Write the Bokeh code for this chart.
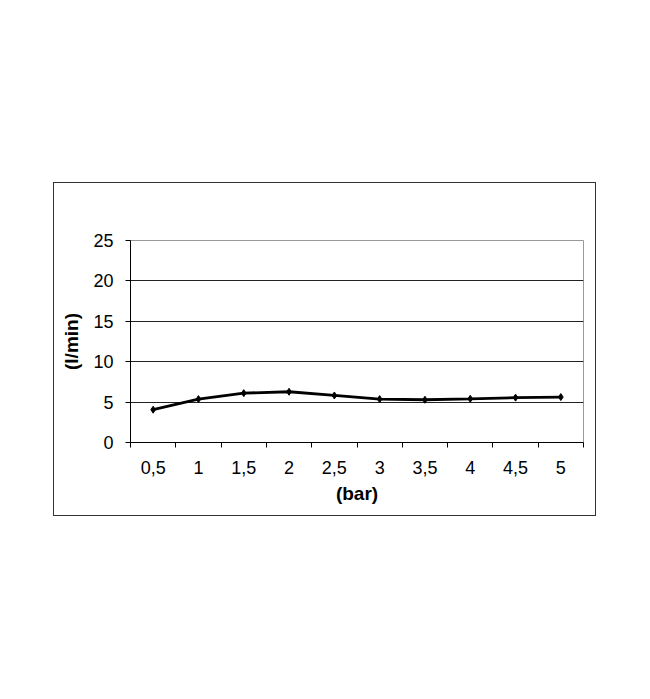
from bokeh.plotting import figure
from bokeh.layouts import column, row
from bokeh.models import Spacer, Range1d, FixedTicker
from bokeh.embed import file_html
from bokeh.resources import INLINE

categories = ["0,5", "1", "1,5", "2", "2,5", "3", "3,5", "4", "4,5", "5"]
flow = [4.06, 5.37, 6.11, 6.28, 5.82, 5.37, 5.29, 5.41, 5.55, 5.62]
y_ticks = [0, 5, 10, 15, 20, 25]

xs = [i + 0.5 for i in range(len(categories))]

p = figure(width=541, height=332, output_backend="svg", toolbar_location=None,
           x_range=Range1d(0, len(categories)), y_range=Range1d(0, 25),
           min_border_left=76, min_border_right=12, min_border_top=57, min_border_bottom=73)
p.background_fill_color = "white"
p.border_fill_color = "white"
p.outline_line_color = "#999999"
p.outline_line_width = 1
p.styles = {"outline": "1px solid #333333"}

p.line(xs, flow, line_color="black", line_width=2.8)
p.scatter(xs, flow, marker="diamond", size=7, color="black")

p.xgrid.visible = False
p.ygrid.ticker = FixedTicker(ticks=[5, 10, 15, 20])
p.ygrid.grid_line_color = "#222222"
p.ygrid.grid_line_width = 1

font = "Liberation Sans"
p.xaxis.ticker = FixedTicker(ticks=xs, minor_ticks=list(range(len(categories) + 1)))
p.xaxis.major_label_overrides = {x: c for x, c in zip(xs, categories)}
p.xaxis.major_tick_out = 0
p.xaxis.major_tick_in = 0
p.xaxis.minor_tick_out = 5
p.xaxis.minor_tick_in = 0
p.xaxis.minor_tick_line_color = "black"
p.xaxis.axis_line_color = "black"
p.xaxis.major_label_standoff = 13
p.xaxis.major_label_text_font = font
p.xaxis.major_label_text_font_size = "18px"
p.xaxis.major_label_text_color = "black"
p.xaxis.axis_label = "(bar)"
p.xaxis.axis_label_text_font = font
p.xaxis.axis_label_text_font_style = "bold"
p.xaxis.axis_label_text_font_size = "19px"
p.xaxis.axis_label_text_color = "black"
p.xaxis.axis_label_standoff = 6

p.yaxis.ticker = FixedTicker(ticks=y_ticks)
p.yaxis.minor_tick_line_color = None
p.yaxis.major_tick_out = 5
p.yaxis.major_tick_in = 0
p.yaxis.axis_line_color = "black"
p.yaxis.major_label_standoff = 12
p.yaxis.major_label_text_font = font
p.yaxis.major_label_text_font_size = "18px"
p.yaxis.major_label_text_color = "black"
p.yaxis.axis_label = "(l/min)"
p.yaxis.axis_label_text_font = font
p.yaxis.axis_label_text_font_style = "bold"
p.yaxis.axis_label_text_font_size = "19px"
p.yaxis.axis_label_text_color = "black"
p.yaxis.axis_label_standoff = 8

layout = column(Spacer(height=183), row(Spacer(width=54), p))

open("out.html", "w").write(file_html(layout, INLINE))
